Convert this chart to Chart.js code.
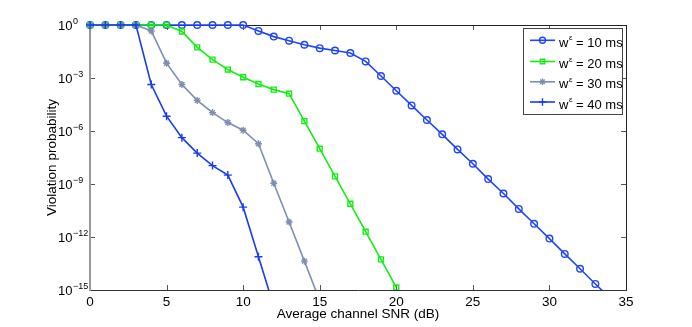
<!DOCTYPE html>
<html><head><meta charset="utf-8">
<script src="https://cdn.jsdelivr.net/npm/chart.js@4/dist/chart.umd.min.js"></script>
<style>html,body{margin:0;padding:0;background:#fff}canvas{display:block}</style>
</head><body>
<canvas id="c" width="692" height="327"></canvas>
<script>
// ---- data ----
const snr = [0,1,2,3,4,5,6,7,8,9,10,11,12,13,14,15,16,17,18,19,20,21,22,23,24,25,26,27,28,29,30,31,32,33,34];
const seriesNames = ['10 ms','20 ms','30 ms','40 ms'];
const p10 = [1,1,1,1,1,1,1,1,1,1,1,4.6e-1,2.2e-1,1.3e-1,7.6e-2,4.9e-2,3.6e-2,2.6e-2,8.7e-3,1.3e-3,1.9e-4,2.8e-5,4.2e-6,6.5e-7,9.1e-8,1.4e-8,1.9e-9,2.9e-10,3.9e-11,5.6e-12,8.1e-13,1.1e-13,1.6e-14,2.2e-15,3.2e-16];
const p20 = [1,1,1,1,1,1,4.3e-1,5.4e-2,1.1e-2,3.0e-3,1.1e-3,4.6e-4,2.2e-4,1.3e-4,3.6e-6,1.0e-7,2.7e-9,7.6e-11,2.0e-12,5.4e-14,1.4e-15];
const p30 = [1,1,1,1,4.6e-1,6.9e-3,4.3e-4,5.4e-5,1.1e-5,3.0e-6,1.1e-6,1.9e-7,1.1e-9,7.1e-12,4.3e-14,2.5e-16];
const p40 = [1,1,1,1,4.3e-4,6.9e-6,4.2e-7,5.6e-8,1.1e-8,3.2e-9,4.9e-11,7.6e-14,1.2e-16];
const xTicks = [0,5,10,15,20,25,30,35];
const yTickValues = [1,1e-3,1e-6,1e-9,1e-12,1e-15];
const yTickExps = ['0','\u22123','\u22126','\u22129','\u221212','\u221215'];
const xTitle = 'Average channel SNR (dB)';
const yTitle = 'Violation probability';
const legendBase = 'w';
const legendSup = '\u03b5';

// ---- styling ----
const FONT = '"Liberation Sans", Arial, Helvetica, sans-serif';
const colors = ['#1f45fc','#14ee14','#7f8fb3','#1a3cf0'];
const styles = ['circle','rect','star','cross'];
const radii = [3.3,3.5,3.5,4];
const allValues = [p10,p20,p30,p40];

function toPoints(vals){ return vals.map((v,i)=>({x:snr[i], y:v})); }

const datasets = allValues.map((vals,k)=>({
  label: legendBase + legendSup + ' = ' + seriesNames[k],
  data: toPoints(vals),
  borderColor: colors[k],
  backgroundColor: 'rgba(0,0,0,0)',
  borderWidth: 1.6,
  pointStyle: styles[k],
  pointRadius: radii[k],
  pointBorderWidth: 1.4,
  pointBorderColor: colors[k],
  pointBackgroundColor: 'rgba(0,0,0,0)',
  tension: 0,
  clip: {left: 10, top: 10, right: 10, bottom: 0}
})).reverse();

function ln(ctx,x1,y1,x2,y2){ctx.beginPath();ctx.moveTo(x1,y1);ctx.lineTo(x2,y2);ctx.stroke();}

const framePlugin = {
  id:'frame',
  beforeDatasetsDraw(chart){
    const {ctx, chartArea:{left,right,top,bottom}, scales:{x,y}} = chart;
    ctx.save();
    ctx.lineWidth = 1;
    ctx.strokeStyle = '#555';
    xTicks.forEach(v=>{
      const px = Math.round(x.getPixelForValue(v))+0.5;
      ln(ctx,px,bottom,px,bottom-5);
      ln(ctx,px,top,px,top+5);
    });
    yTickValues.forEach(v=>{
      const py = Math.round(y.getPixelForValue(v))+0.5;
      ln(ctx,left,py,left+5,py);
      ln(ctx,right,py,right-5,py);
    });
    ctx.strokeStyle = '#222';
    ln(ctx,left,top+0.5,right,top+0.5);
    ln(ctx,right+0.5,top,right+0.5,bottom);
    ctx.strokeStyle = '#333';
    ln(ctx,left,bottom+0.5,right+1,bottom+0.5);
    ctx.strokeStyle = '#999';
    ctx.lineWidth = 2;
    ln(ctx,left,top,left,bottom+1);
    // y tick labels 10^k
    ctx.fillStyle = '#000';
    yTickValues.forEach((v,i)=>{
      const py = y.getPixelForValue(v);
      ctx.font = '13px ' + FONT;
      ctx.textAlign = 'left';
      ctx.textBaseline = 'middle';
      ctx.fillText('10', 58, py+1);
      const w = ctx.measureText('10').width;
      ctx.font = '9px ' + FONT;
      ctx.textBaseline = 'alphabetic';
      ctx.fillText(yTickExps[i], 58+w+0.5, py-1);
    });
    ctx.restore();
  }
};

const legendPlugin = {
  id:'legendBox',
  afterDraw(chart){
    const ctx = chart.ctx;
    const bx=523.5, by=28.5, bw=99, bh=86;
    ctx.save();
    ctx.fillStyle='#fff';
    ctx.fillRect(bx,by,bw,bh);
    ctx.strokeStyle='#444'; ctx.lineWidth=1;
    ctx.strokeRect(bx,by,bw,bh);
    const rows=[40.3,61.5,81.8,102];
    seriesNames.forEach((name,k)=>{
      const yy=rows[k];
      ctx.strokeStyle=colors[k]; ctx.lineWidth=1.6;
      ln(ctx,530,yy,555,yy);
      ctx.lineWidth=1.4;
      ctx.fillStyle='rgba(0,0,0,0)';
      Chart.helpers.drawPoint(ctx,{pointStyle:styles[k],radius:radii[k]-0.3,rotation:0,borderWidth:1.4},542.5,yy);
      ctx.fillStyle='#000';
      ctx.font='13px '+FONT;
      ctx.textAlign='left'; ctx.textBaseline='alphabetic';
      const base=yy+6.5;
      ctx.fillText(legendBase,559,base);
      let xx=559+ctx.measureText(legendBase).width+0.5;
      ctx.font='8px '+FONT;
      ctx.fillText(legendSup,xx,base-6.5);
      xx+=ctx.measureText(legendSup).width;
      ctx.font='13px '+FONT;
      ctx.fillText(' = '+name,xx,base);
    });
    ctx.restore();
  }
};

new Chart(document.getElementById('c'),{
  type:'line',
  data:{datasets},
  options:{
    responsive:false,
    animation:false,
    devicePixelRatio:1,
    layout:{padding:{left:40,top:25,right:66,bottom:0}},
    plugins:{legend:{display:false},tooltip:{enabled:false}},
    scales:{
      x:{
        type:'linear', min:0, max:35,
        afterBuildTicks(s){ s.ticks = xTicks.map(v=>({value:v})); },
        afterFit(s){ s.height = 37; },
        grid:{display:false, drawTicks:false, tickLength:0},
        border:{display:false},
        ticks:{color:'#000', padding:4, font:{size:13.5, family:FONT}, maxRotation:0},
        title:{display:true, text:xTitle, color:'#000', font:{size:13.5, family:FONT}, padding:{top:0,bottom:5}}
      },
      y:{
        type:'logarithmic', min:1e-15, max:1,
        afterBuildTicks(s){ s.ticks = yTickValues.map(v=>({value:v})); },
        afterFit(s){ s.width = 50; },
        grid:{display:false, drawTicks:false, tickLength:0},
        border:{display:false},
        ticks:{display:false},
        title:{display:true, text:yTitle, color:'#000', font:{size:13.5, family:FONT}, padding:{top:4,bottom:0}}
      }
    }
  },
  plugins:[framePlugin, legendPlugin]
});
</script>
</body></html>
